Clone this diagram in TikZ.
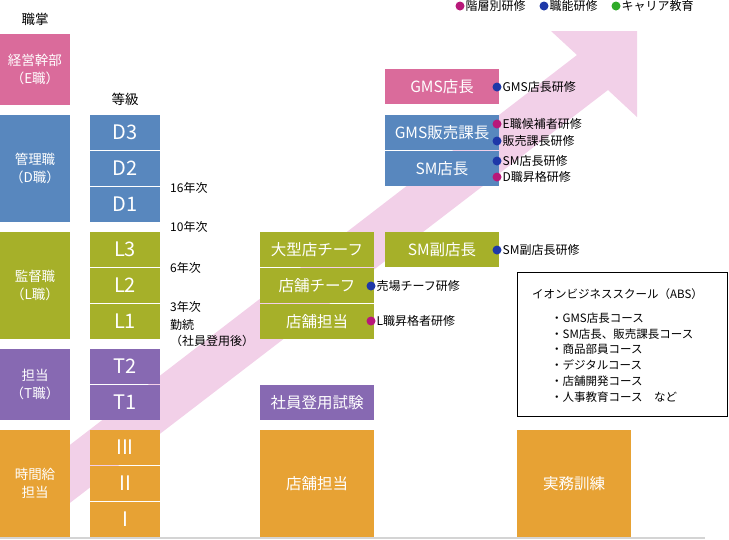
\documentclass[tikz,border=0pt]{standalone}
\usepackage{fontspec}
\setmainfont{Noto Sans CJK JP}
\definecolor{cE}{HTML}{DA6B9B}
\definecolor{cD}{HTML}{5887BE}
\definecolor{cL}{HTML}{A6B029}
\definecolor{cT}{HTML}{8769B2}
\definecolor{cH}{HTML}{E7A234}
\definecolor{band}{HTML}{F2D0E8}
\definecolor{dM}{HTML}{B8187A}
\definecolor{dB}{HTML}{1E38A8}
\definecolor{dG}{HTML}{2EAA28}
\definecolor{gline}{HTML}{D4D4D4}
\tikzset{
  bx/.style={inner sep=0pt, outer sep=0pt, text=white, align=center},
  colbox/.style={bx, minimum width=70pt, font=\fontsize{13.5}{18}\selectfont},
  gradebox/.style={bx, minimum width=70pt, minimum height=35pt, font=\fontsize{20}{24}\selectfont},
  postbox/.style={bx, minimum width=114pt, minimum height=35pt, font=\fontsize{15.5}{18}\selectfont},
  bigbox/.style={bx, minimum width=114pt, minimum height=107pt, font=\fontsize{15.5}{18}\selectfont},
  dotc/.style={circle, inner sep=0pt, minimum size=9pt},
  ann/.style={anchor=west, inner sep=0pt, font=\fontsize{12}{14}\selectfont},
  hdr/.style={inner sep=0pt, font=\fontsize{13.5}{16}\selectfont},
  yr/.style={anchor=west, inner sep=0pt, font=\fontsize{12}{14}\selectfont},
  abs/.style={anchor=west, inner sep=0pt, font=\fontsize{11.5}{14}\selectfont}
}
\begin{document}
\begin{tikzpicture}[x=1pt,y=-1pt]
\useasboundingbox (0,0) rectangle (729,539);
% arrow band
\fill[band] (62,451) -- (577,55) -- (551,31) -- (637,31) -- (637,117) -- (608,90) -- (62,509) -- cycle;
% bottom line
\fill[gline] (0,537) rectangle (705,539);
% headers
\node[hdr] (h1) at (35,19) {職掌};
\node[hdr] (h2) at (125,99) {等級};
% legend
\node[dotc, fill=dM] (lg1) at (460,6) {};
\node[ann] (lgt1) at (465.5,6) {階層別研修};
\node[dotc, fill=dB] (lg2) at (544,6) {};
\node[ann] (lgt2) at (549.5,6) {職能研修};
\node[dotc, fill=dG] (lg3) at (616,6) {};
\node[ann] (lgt3) at (621.5,6) {キャリア教育};
% left column
\node[colbox, fill=cE, minimum height=71pt] (cE) at (35,69.5) {経営幹部\\（E職）};
\node[colbox, fill=cD, minimum height=107pt] (cD) at (35,168.5) {管理職\\（D職）};
\node[colbox, fill=cL, minimum height=107pt] (cL) at (35,285.5) {監督職\\（L職）};
\node[colbox, fill=cT, minimum height=71pt] (cT) at (35,384.5) {担当\\（T職）};
\node[colbox, fill=cH, minimum height=107pt] (cH) at (35,483.5) {時間給\\担当};
% grades
\node[gradebox, fill=cD] (D3) at (125,132.5) {D3};
\node[gradebox, fill=cD] (D2) at (125,168.5) {D2};
\node[gradebox, fill=cD] (D1) at (125,204.5) {D1};
\node[gradebox, fill=cL] (L3) at (125,249.5) {L3};
\node[gradebox, fill=cL] (L2) at (125,285.5) {L2};
\node[gradebox, fill=cL] (L1) at (125,321.5) {L1};
\node[gradebox, fill=cT] (T2) at (125,366.5) {T2};
\node[gradebox, fill=cT] (T1) at (125,402.5) {T1};
\node[gradebox, fill=cH] (G3) at (125,447.5) {III};
\node[gradebox, fill=cH] (G2) at (125,483.5) {II};
\node[gradebox, fill=cH] (G1) at (125,519.5) {I};
% years
\node[yr] (y16) at (170,188) {16年次};
\node[yr] (y10) at (170,227) {10年次};
\node[yr] (y6) at (170,268) {6年次};
\node[yr] (y3) at (170,307) {3年次};
\node[yr] (yk) at (170,325) {勤続};
\node[yr] (ys) at (170,341) {（社員登用後）};
% third column
\node[postbox, fill=cL] (p1) at (317,249.5) {大型店チーフ};
\node[postbox, fill=cL] (p2) at (317,285.5) {店舗チーフ};
\node[postbox, fill=cL] (p3) at (317,321.5) {店舗担当};
\node[postbox, fill=cT] (p4) at (317,402.5) {社員登用試験};
\node[bigbox, fill=cH] (p5) at (317,483.5) {店舗担当};
% fourth column
\node[postbox, fill=cE] (q1) at (442,86.5) {GMS店長};
\node[postbox, fill=cD] (q2) at (442,132.5) {GMS販売課長};
\node[postbox, fill=cD] (q3) at (442,168.5) {SM店長};
\node[postbox, fill=cL] (q4) at (442,249.5) {SM副店長};
\node[bigbox, fill=cH] (q5) at (574,483.5) {実務訓練};
% training dots and labels
\node[dotc, fill=dB] (k1) at (497,87) {};
\node[ann] (kt1) at (502.5,87) {GMS店長研修};
\node[dotc, fill=dM] (k2) at (497,124) {};
\node[ann] (kt2) at (502.5,124) {E職候補者研修};
\node[dotc, fill=dB] (k3) at (497,141) {};
\node[ann] (kt3) at (502.5,141) {販売課長研修};
\node[dotc, fill=dB] (k4) at (497,161) {};
\node[ann] (kt4) at (502.5,161) {SM店長研修};
\node[dotc, fill=dM] (k5) at (497,177) {};
\node[ann] (kt5) at (502.5,177) {D職昇格研修};
\node[dotc, fill=dB] (k6) at (497,250) {};
\node[ann] (kt6) at (502.5,250) {SM副店長研修};
\node[dotc, fill=dB] (k7) at (371,286) {};
\node[ann] (kt7) at (376.5,286) {売場チーフ研修};
\node[dotc, fill=dM] (k8) at (371,321) {};
\node[ann] (kt8) at (376.5,321) {L職昇格者研修};
% ABS box
\draw[black, line width=0.8pt] (517.5,272.5) rectangle (727.5,416.5);
\node[abs] (a0) at (532,294) {イオンビジネススクール（ABS）};
\node[abs] (a1) at (551,318) {・GMS店長コース};
\node[abs] (a2) at (551,334) {・SM店長、販売課長コース};
\node[abs] (a3) at (551,349.5) {・商品部員コース};
\node[abs] (a4) at (551,365) {・デジタルコース};
\node[abs] (a5) at (551,381) {・店舗開発コース};
\node[abs] (a6) at (551,397) {・人事教育コース　など};
\end{tikzpicture}
\end{document}
